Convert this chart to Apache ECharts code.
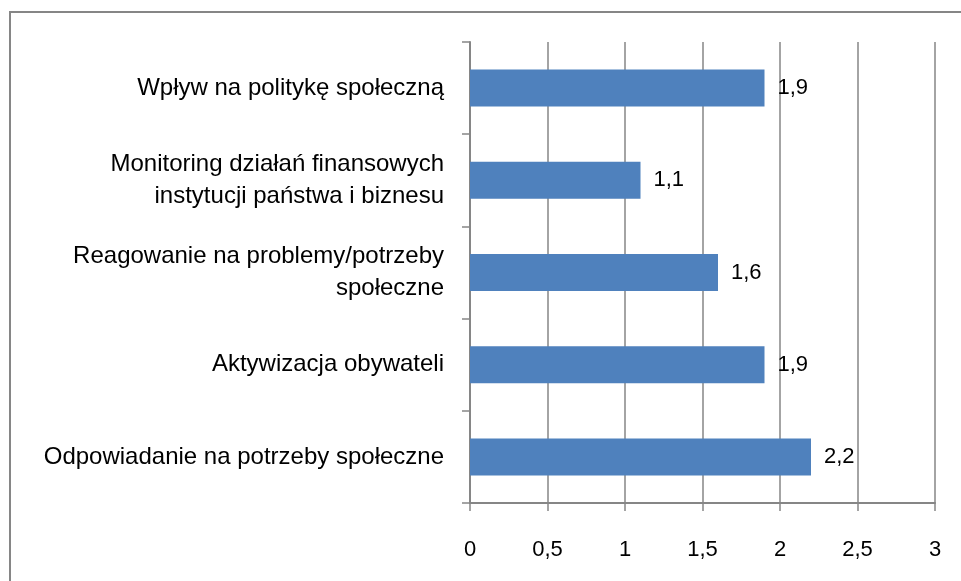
<!DOCTYPE html>
<html style="height: 100%">
<head>
    <meta charset="utf-8">
</head>
<body style="height: 100%; margin: 0; background: #fff">
<div id="container" style="width: 961px; height: 581px"></div>
<script type="text/javascript" src="https://cdn.jsdelivr.net/npm/echarts@6/dist/echarts.min.js"></script>
<script type="text/javascript">
  // kategorie od góry do dołu
  const categories = [
    'Wpływ na politykę społeczną',
    'Monitoring działań finansowych\ninstytucji państwa i biznesu',
    'Reagowanie na problemy/potrzeby\nspołeczne',
    'Aktywizacja obywateli',
    'Odpowiadanie na potrzeby społeczne'
  ];
  const values = [1.9, 1.1, 1.6, 1.9, 2.2];

  const font = "'Liberation Sans', sans-serif";
  const grey = '#868686';
  const fmt = v => String(v).replace('.', ',');

  var dom = document.getElementById("container");
  var myChart = echarts.init(dom);
  var option = {
    animation: false,
    textStyle: { fontFamily: font },
    graphic: [
      {
        type: 'rect',
        shape: { x: 10, y: 12, width: 1000, height: 1000 },
        style: { fill: 'none', stroke: grey, lineWidth: 2 }
      }
    ],
    grid: { left: 470, right: 26, top: 42, bottom: 78 },
    xAxis: {
      type: 'value',
      min: 0,
      max: 3,
      interval: 0.5,
      axisLine: { show: true, lineStyle: { color: grey, width: 2 } },
      axisTick: { show: true, length: 8, lineStyle: { color: grey, width: 1.5 } },
      splitLine: { show: true, lineStyle: { color: grey, width: 1.5 } },
      axisLabel: {
        color: '#000', fontSize: 22, fontFamily: font, margin: 36,
        formatter: fmt
      }
    },
    yAxis: {
      type: 'category',
      inverse: true,
      data: categories,
      axisLine: { show: true, lineStyle: { color: grey, width: 2 } },
      axisTick: { show: true, length: 8, lineStyle: { color: grey, width: 1.5 } },
      axisLabel: {
        color: '#000', fontSize: 24, fontFamily: font, margin: 26,
        lineHeight: 32, align: 'right'
      }
    },
    series: [
      {
        type: 'bar',
        data: values,
        barWidth: 37,
        itemStyle: { color: '#4F81BD' },
        label: {
          show: true,
          position: 'right',
          distance: 13,
          color: '#000',
          fontSize: 22,
          fontFamily: font,
          formatter: p => fmt(p.value)
        }
      }
    ]
  };
  myChart.setOption(option);
</script>
</body>
</html>
